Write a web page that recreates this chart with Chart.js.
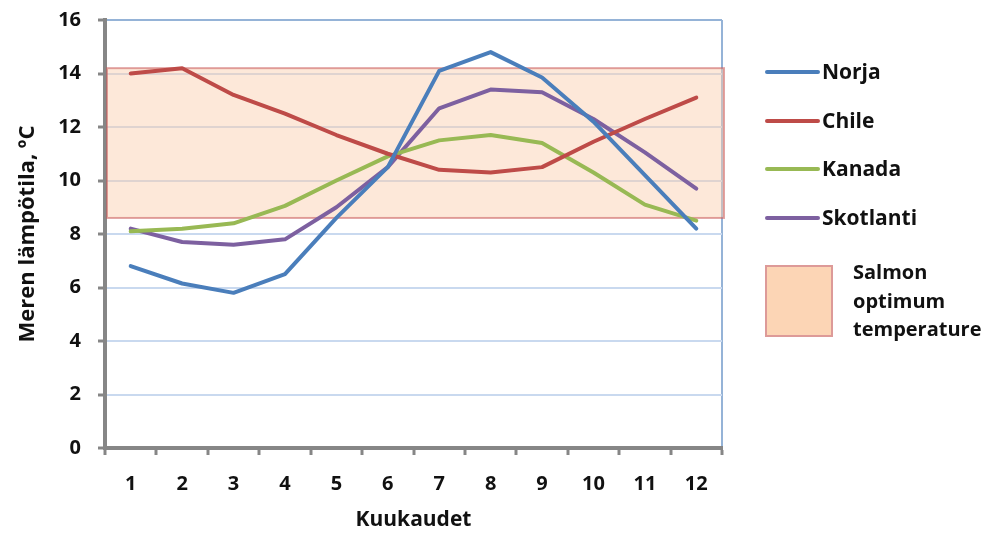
<!DOCTYPE html>
<html>
<head>
<meta charset="utf-8">
<script src="https://cdn.jsdelivr.net/npm/chart.js@4.4.0/dist/chart.umd.min.js"></script>
<style>
  html, body { margin: 0; padding: 0; background: #fff; }
  #wrap { position: relative; width: 994px; height: 533px; }
  #legend { position: absolute; left: 765px; top: 0; font-family: 'Open Sans', sans-serif; font-weight: bold; font-size: 21px; color: #111; }
  .swatch { position: absolute; left: 0; width: 55px; height: 4px; border-radius: 2px; }
  .label { position: absolute; left: 57px; line-height: 28px; white-space: nowrap; }
  .box { position: absolute; left: 0; width: 68px; height: 72px; background: #fcd5b5; border: 2px solid #dd9a98; box-sizing: border-box; }
  .boxlabel { position: absolute; left: 88px; font-size: 20px; line-height: 28.5px; white-space: nowrap; }
</style>
</head>
<body>
<div id="wrap">
  <canvas id="myChart" width="994" height="533"></canvas>
  <div id="legend"></div>
</div>
<script>
// months
var months = ['1', '2', '3', '4', '5', '6', '7', '8', '9', '10', '11', '12'];

// sea temperature, deg C
var norja     = [6.8, 6.15, 5.8, 6.5, 8.6, 10.5, 14.1, 14.8, 13.85, 12.2, 10.2, 8.2];
var chile     = [14.0, 14.2, 13.2, 12.5, 11.7, 11.0, 10.4, 10.3, 10.5, 11.45, 12.3, 13.1];
var kanada    = [8.1, 8.2, 8.4, 9.05, 10.0, 10.9, 11.5, 11.7, 11.4, 10.3, 9.1, 8.5];
var skotlanti = [8.2, 7.7, 7.6, 7.8, 9.0, 10.5, 12.7, 13.4, 13.3, 12.3, 11.05, 9.7];

// salmon optimum range (low, high)
var salmonRange = [8.6, 14.2];
var salmonLabel = ['Salmon', 'optimum', 'temperature'];

// y axis ticks
var yMin = 0, yMax = 16, yStep = 2;

var seriesNames = ['Norja', 'Chile', 'Kanada', 'Skotlanti'];
var seriesData = [norja, chile, kanada, skotlanti];
var seriesColors = ['#4a7ebb', '#be4b48', '#98b954', '#7d60a0'];

var font = { family: "'Open Sans', sans-serif", weight: 'bold', size: 20 };

// draws the salmon optimum band behind the lines
var bandPlugin = {
    id: 'salmonBand',
    beforeDatasetsDraw: function(chart) {
        var ctx = chart.ctx, area = chart.chartArea, y = chart.scales.y;
        var top = y.getPixelForValue(salmonRange[1]);
        var bottom = y.getPixelForValue(salmonRange[0]);
        ctx.save();
        ctx.fillStyle = 'rgba(250, 205, 170, 0.45)';
        ctx.fillRect(area.left + 2, top, area.right - area.left, bottom - top);
        ctx.strokeStyle = 'rgba(200, 90, 90, 0.55)';
        ctx.lineWidth = 2;
        ctx.strokeRect(area.left + 2, top, area.right - area.left, bottom - top);
        ctx.restore();
    }
};

var ctx = document.getElementById('myChart').getContext('2d');
var chart = new Chart(ctx, {
    type: 'line',
    data: {
        labels: months,
        datasets: seriesNames.map(function(name, i) {
            return {
                label: name,
                data: seriesData[i],
                borderColor: seriesColors[i],
                backgroundColor: seriesColors[i],
                borderWidth: 4,
                pointRadius: 0,
                fill: false,
                tension: 0,
                borderCapStyle: 'round',
                borderJoinStyle: 'round'
            };
        })
    },
    options: {
        responsive: false,
        animation: false,
        layout: { padding: { left: 0, top: 20, right: 272, bottom: 0 } },
        plugins: {
            legend: { display: false },
            tooltip: { enabled: false }
        },
        scales: {
            x: {
                offset: true,
                grid: {
                    offset: true,
                    drawOnChartArea: true,
                    color: function(c) { return c.type === 'tick' ? 'rgba(0,0,0,0)' : '#95b3d7'; },
                    lineWidth: 2,
                    tickColor: '#868686',
                    tickLength: 7,
                    tickWidth: 3
                },
                border: { color: '#868686', width: 4 },
                ticks: { color: '#111', font: font, padding: 17, maxRotation: 0 },
                title: { display: true, text: 'Kuukaudet', color: '#111', font: { family: font.family, weight: 'bold', size: 21 }, padding: { top: 0, bottom: 0 } },
                afterFit: function(scale) { scale.height = 85; scale.paddingLeft = 0; scale.paddingRight = 0; }
            },
            y: {
                min: yMin,
                max: yMax,
                ticks: { stepSize: yStep, color: '#111', font: font, padding: 17 },
                grid: {
                    color: function(c) { return c.tick && c.tick.value === yMax ? '#95b3d7' : '#c9d9ef'; },
                    lineWidth: 2,
                    tickColor: '#868686',
                    tickLength: 7,
                    tickWidth: 3
                },
                border: { color: '#868686', width: 4 },
                title: { display: true, text: 'Meren lämpötila, ºC', color: '#111', font: { family: font.family, weight: 'bold', size: 22 }, padding: { top: 15, bottom: 0 } },
                afterFit: function(scale) { scale.width = 105; scale.paddingTop = 0; scale.paddingBottom = 0; }
            }
        }
    },
    plugins: [bandPlugin]
});

// legend built from the same series arrays
var legend = document.getElementById('legend');
var html = '';
seriesNames.forEach(function(name, i) {
    var cy = 72 + i * 48.5;
    html += '<div class="swatch" style="top:' + (cy - 2) + 'px;background:' + seriesColors[i] + '"></div>';
    html += '<div class="label" style="top:' + (cy - 15) + 'px">' + name + '</div>';
});
html += '<div class="box" style="top:265px"></div>';
html += '<div class="boxlabel" style="top:258px">' + salmonLabel.join('<br>') + '</div>';
legend.innerHTML = html;
</script>
</body>
</html>
